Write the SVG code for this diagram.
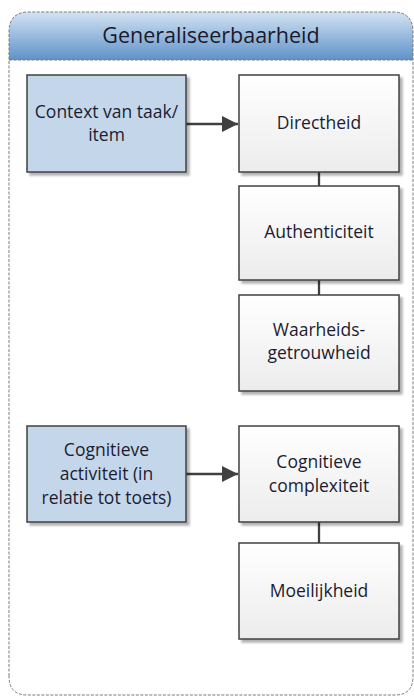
<svg xmlns="http://www.w3.org/2000/svg" width="414" height="696" viewBox="0 0 414 696">
  <defs>
    <linearGradient id="hdr" x1="0" y1="0" x2="0" y2="1">
      <stop offset="0" stop-color="#d3e3f3"/>
      <stop offset="1" stop-color="#5f92c9"/>
    </linearGradient>
    <linearGradient id="boxFill" x1="0" y1="0" x2="0" y2="1">
      <stop offset="0" stop-color="#ffffff"/>
      <stop offset="1" stop-color="#ececec"/>
    </linearGradient>
    <filter id="shadow" x="-10%" y="-10%" width="130%" height="130%">
      <feGaussianBlur in="SourceAlpha" stdDeviation="1.2"/>
      <feOffset dx="3" dy="3" result="o"/>
      <feComponentTransfer><feFuncA type="linear" slope="0.3"/></feComponentTransfer>
      <feMerge><feMergeNode/><feMergeNode in="SourceGraphic"/></feMerge>
    </filter>
    <marker id="arrow" viewBox="0 0 10 10" refX="10" refY="5" markerWidth="7" markerHeight="7" orient="auto" markerUnits="strokeWidth">
      <path d="M0,0 L10,5 L0,10 z" fill="#404040"/>
    </marker>
  </defs>
  <style>
    .lbl { font-family: "Open Sans", "Liberation Sans", sans-serif; font-size: 17.5px; fill: #1c1c30; text-anchor: middle; }
    .title { font-family: "Open Sans", "Liberation Sans", sans-serif; font-size: 21.5px; fill: #1a1a2a; text-anchor: middle; }
    .blue { fill: #c4d7ea; stroke: #404040; stroke-width: 1.5; filter: url(#shadow); }
    .plain { fill: url(#boxFill); stroke: #404040; stroke-width: 1.5; filter: url(#shadow); }
    .conn { stroke: #404040; stroke-width: 2.3; fill: none; }
  </style>

  <rect width="414" height="696" fill="#ffffff"/>

  <!-- container with header -->
  <g id="container">
    <path d="M9,695 L9,32 Q9,12 29,12 L393,12 Q413,12 413,32 L413,695 Z" fill="#ffffff"/>
    <path d="M9,60 L9,32 Q9,12 29,12 L393,12 Q413,12 413,32 L413,60 Z" fill="url(#hdr)"/>
    <path d="M9,60 L413,60" stroke="#7a7a7a" stroke-width="1" stroke-dasharray="3,1.5" fill="none"/>
    <path d="M9,676 L9,32 Q9,12 29,12 L393,12 Q413,12 413,32 L413,676 Q413,695 395,695 L27,695 Q9,695 9,676 Z" stroke="#7a7a7a" stroke-width="1" stroke-dasharray="3,1.5" fill="none"/>
    <text class="title" x="211" y="43">Generaliseerbaarheid</text>
  </g>

  <!-- connectors -->
  <g id="connectors">
    <path class="conn" d="M186,124 L238,124" marker-end="url(#arrow)"/>
    <path class="conn" d="M186,474 L238,474" marker-end="url(#arrow)"/>
    <path class="conn" d="M319,172 L319,186"/>
    <path class="conn" d="M319,280 L319,295"/>
    <path class="conn" d="M319,522 L319,543"/>
  </g>

  <g id="context">
    <rect class="blue" x="27" y="75" width="159" height="97"/>
    <text class="lbl" x="106.5" y="118">Context van taak/</text>
    <text class="lbl" x="106.5" y="141">item</text>
  </g>

  <g id="directheid">
    <rect class="plain" x="239" y="75" width="160" height="97"/>
    <text class="lbl" x="319" y="129">Directheid</text>
  </g>

  <g id="authenticiteit">
    <rect class="plain" x="239" y="186" width="160" height="94"/>
    <text class="lbl" x="319" y="238">Authenticiteit</text>
  </g>

  <g id="waarheidsgetrouwheid">
    <rect class="plain" x="239" y="295" width="160" height="96"/>
    <text class="lbl" x="319" y="336">Waarheids-</text>
    <text class="lbl" x="319" y="359">getrouwheid</text>
  </g>

  <g id="cognitieve-activiteit">
    <rect class="blue" x="27" y="426" width="159" height="96"/>
    <text class="lbl" x="106.5" y="456">Cognitieve</text>
    <text class="lbl" x="106.5" y="480">activiteit (in</text>
    <text class="lbl" x="106.5" y="504">relatie tot toets)</text>
  </g>

  <g id="cognitieve-complexiteit">
    <rect class="plain" x="239" y="426" width="160" height="96"/>
    <text class="lbl" x="319" y="468">Cognitieve</text>
    <text class="lbl" x="319" y="492">complexiteit</text>
  </g>

  <g id="moeilijkheid">
    <rect class="plain" x="239" y="543" width="160" height="96"/>
    <text class="lbl" x="319" y="597">Moeilijkheid</text>
  </g>
</svg>
